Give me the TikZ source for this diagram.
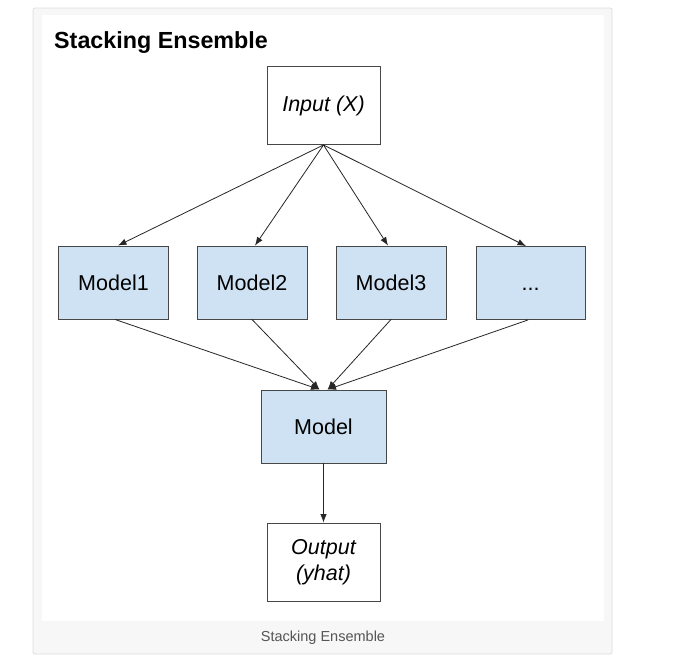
\documentclass[tikz,border=0pt]{standalone}
\usepackage{fontspec}
\setmainfont{Liberation Sans}
\usetikzlibrary{arrows.meta}
\definecolor{boxblue}{HTML}{CFE2F3}
\definecolor{boxline}{HTML}{474747}
\definecolor{framebg}{HTML}{F7F7F7}
\definecolor{frameline}{HTML}{DDDDDD}
\definecolor{captiongray}{HTML}{555555}
\begin{document}
\begin{tikzpicture}[x=1pt,y=-1pt,
  basebox/.style={draw=boxline, line width=0.9pt, inner sep=0pt, align=center, font=\fontsize{21.5}{26}\selectfont},
  whitebox/.style={basebox, fill=white, minimum width=113pt, minimum height=78pt, font=\fontsize{21.5}{26}\selectfont\itshape},
  bluebox/.style={basebox, fill=boxblue, minimum width=110pt, minimum height=73pt},
  conn/.style={draw=black!85, line width=0.8pt, -{Latex[length=8.5pt,width=6.5pt]}}]
\useasboundingbox (0,0) rectangle (688,665);
\fill[white] (0,0) rectangle (688,665);
\draw[frameline, fill=framebg, line width=0.8pt, rounded corners=2pt] (33,8) rectangle (612,654);
\fill[white] (42,15) rectangle (604,621);
\node[anchor=base west, inner sep=0pt, font=\fontsize{23.3}{28}\selectfont\bfseries] (title) at (54,48) {Stacking Ensemble};
\node[anchor=base, font=\fontsize{14.5}{17}\selectfont, text=captiongray] (caption) at (323,641) {Stacking Ensemble};
\node[whitebox] (input) at (323.5,105.5) {Input (X)};
\node[bluebox] (m1) at (113.5,282.5) {Model1};
\node[bluebox] (m2) at (252,282.5) {Model2};
\node[bluebox] (m3) at (391,282.5) {Model3};
\node[bluebox, minimum width=109pt] (m4) at (530.5,283) {\vphantom{Model}...};
\node[bluebox, minimum width=125pt] (model) at (323.5,426.5) {Model};
\node[whitebox] (output) at (323.5,562) {Output\\(yhat)};
\draw[conn] (input.south) -- ([xshift=4.5pt]m1.north);
\draw[conn] (input.south) -- ([xshift=3pt]m2.north);
\draw[conn] (input.south) -- ([xshift=-3pt]m3.north);
\draw[conn] (input.south) -- ([xshift=-4.5pt]m4.north);
\draw[conn] ([xshift=1.5pt]m1.south) -- ([xshift=-4pt]model.north);
\draw[conn] (m2.south) -- ([xshift=-4pt]model.north);
\draw[conn] (m3.south) -- ([xshift=4pt]model.north);
\draw[conn] ([xshift=-2.5pt]m4.south) -- ([xshift=4pt]model.north);
\draw[conn] (model.south) -- (output.north);
\end{tikzpicture}
\end{document}
